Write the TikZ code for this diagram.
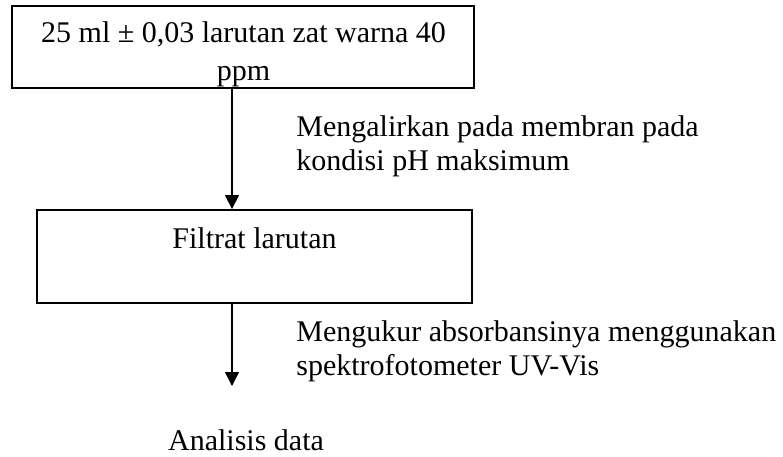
\documentclass[tikz,border=0pt]{standalone}
\usepackage{fontspec}
\setmainfont{Liberation Serif}
\usetikzlibrary{arrows.meta}

\begin{document}
\begin{tikzpicture}[x=0.5pt,y=-0.5pt,
    font=\fontsize{15}{17}\selectfont,
    kotak/.style={draw,line width=0.9pt,inner sep=0pt},
    teks/.style={inner sep=0pt},
    panah/.style={line width=0.65pt,-{Triangle[length=7pt,width=7pt]}}]
    \useasboundingbox (0,0) rectangle (783,456);

    % Kotak dan jalur panah
    \node[kotak,minimum width=231pt,minimum height=41pt] (sampel) at (243,47) {};
    \node[kotak,minimum width=217.5pt,minimum height=46.5pt] (filtrat) at (254.5,256.5) {};
    \coordinate (jalur) at (232,0);
    \coordinate (ujung) at (232,386);

    % Isi kotak atas (baris kedua terpotong)
    \begin{scope}
      \clip ([yshift=1pt]sampel.south west) rectangle (sampel.north east);
      \node[teks,anchor=base] (baris1) at (243.5,42) {25 ml ± 0,03 larutan zat warna 40};
      \node[teks,anchor=base] (baris2) at (243.5,80) {ppm};
    \end{scope}
    \node[teks,anchor=base] (isi2) at (254.5,248) {Filtrat larutan};

    % Panah
    \draw[panah] (sampel.south -| jalur) -- (filtrat.north -| jalur);
    \draw[panah] (filtrat.south -| jalur) -- (ujung);

    % Keterangan langkah
    \node[teks,anchor=base west] (lang1a) at (296,136) {Mengalirkan pada membran pada};
    \node[teks,anchor=base west] (lang1b) at (296,170) {kondisi pH maksimum};
    \node[teks,anchor=base west] (lang2a) at (296,341) {Mengukur absorbansinya menggunakan};
    \node[teks,anchor=base west] (lang2b) at (296,375) {spektrofotometer UV-Vis};

    % Hasil akhir
    \node[teks,anchor=base] (hasil) at (246,450) {Analisis data};
\end{tikzpicture}
\end{document}
